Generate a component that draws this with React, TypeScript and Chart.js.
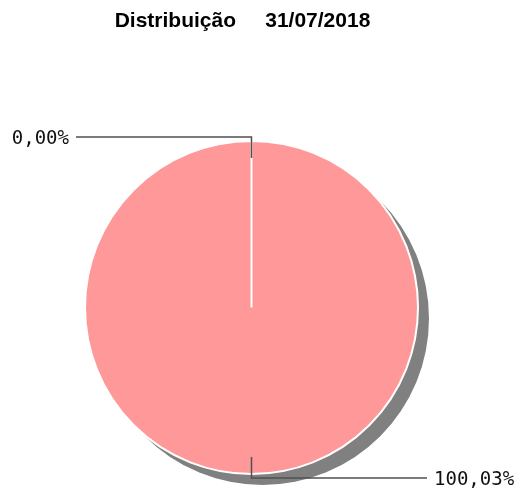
import React, { useEffect, useRef } from "react";
import { Chart, registerables } from "chart.js";

Chart.register(...registerables);

const TITLE = "Distribuição     31/07/2018";
const categories = ["Categoria A", "Categoria B"];
const values = [0.0, 100.03];
const sliceColors = ["#FF9999", "#FF9999"];

const fmt = (v: number) => v.toFixed(2).replace(".", ",") + "%";

const shadowPlugin = {
  id: "shadowPlugin",
  beforeDatasetsDraw(chart: any) {
    const meta = chart.getDatasetMeta(0);
    const arc = meta.data[0];
    if (!arc) return;
    const { x, y, outerRadius } = arc.getProps(["x", "y", "outerRadius"], true);
    const ctx = chart.ctx;
    ctx.save();
    ctx.beginPath();
    ctx.arc(x + 11, y + 11, outerRadius, 0, Math.PI * 2);
    ctx.fillStyle = "#808080";
    ctx.fill();
    ctx.restore();
  },
};

const labelPlugin = {
  id: "labelPlugin",
  afterDatasetsDraw(chart: any) {
    const meta = chart.getDatasetMeta(0);
    const ctx = chart.ctx;
    const data = chart.data.datasets[0].data as number[];
    ctx.save();
    meta.data.forEach((arc: any, i: number) => {
      const { x, y, outerRadius: r, startAngle, endAngle } = arc.getProps(
        ["x", "y", "outerRadius", "startAngle", "endAngle"],
        true
      );
      const mid = (startAngle + endAngle) / 2;
      const c = Math.cos(mid);
      const s = Math.sin(mid);
      let dir = 1;
      if (c > 1e-6) dir = 1;
      else if (c < -1e-6) dir = -1;
      else dir = s < 0 ? -1 : 1;
      const x0 = x + c * (r - 17);
      const y0 = y + s * (r - 17);
      const x1 = x + c * (r + 4);
      const y1 = y + s * (r + 4);
      const x2 = x + dir * (r + 9);
      ctx.beginPath();
      ctx.moveTo(x0, y0);
      ctx.lineTo(x1, y1);
      ctx.lineTo(x2, y1);
      ctx.strokeStyle = "#505050";
      ctx.lineWidth = 1.5;
      ctx.stroke();
      ctx.font = '19px "DejaVu Sans Mono", monospace';
      ctx.fillStyle = "#111111";
      ctx.textBaseline = "alphabetic";
      ctx.textAlign = dir > 0 ? "left" : "right";
      ctx.fillText(fmt(data[i]), x2 + dir * 7, y1 + 7);
    });
    ctx.restore();
  },
  afterDraw(chart: any) {
    const ctx = chart.ctx;
    ctx.save();
    ctx.font = 'bold 21px "Liberation Sans", Arial, sans-serif';
    ctx.fillStyle = "#000000";
    ctx.textAlign = "center";
    ctx.textBaseline = "alphabetic";
    ctx.fillText(TITLE, chart.width / 2 - 18, 27);
    ctx.restore();
  },
};

export default function App() {
  const ref = useRef<HTMLCanvasElement | null>(null);
  useEffect(() => {
    if (!ref.current) return;
    const chart = new Chart(ref.current, {
      type: "pie",
      data: {
        labels: categories,
        datasets: [
          {
            data: values,
            backgroundColor: sliceColors,
            borderColor: "#ffffff",
            borderWidth: 2,
            hoverOffset: 0,
          },
        ],
      },
      options: {
        animation: false,
        responsive: true,
        maintainAspectRatio: false,
        events: [],
        layout: { padding: { left: 84, right: 102, top: 140, bottom: 13 } },
        plugins: {
          legend: { display: false },
          title: { display: false },
          tooltip: { enabled: false },
        },
      },
      plugins: [shadowPlugin, labelPlugin],
    });
    return () => chart.destroy();
  }, []);
  return (
    <div style={{ position: "absolute", left: 0, top: 0, width: 521, height: 488, background: "#fff" }}>
      <canvas ref={ref} />
    </div>
  );
}
